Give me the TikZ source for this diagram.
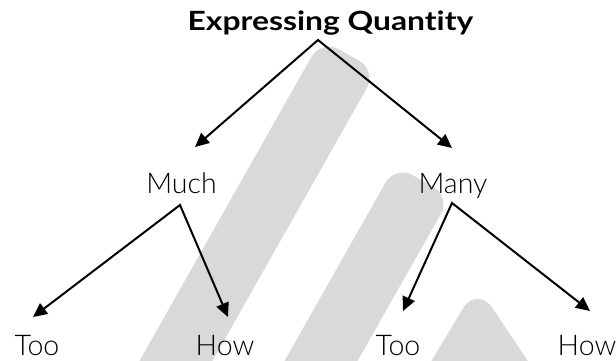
\documentclass[tikz,border=0pt]{standalone}
\usepackage{fontspec}
\setmainfont{Lato}[UprightFont=* Light, BoldFont=* Bold]
\newfontfamily\titlefont{Lato Bold}[FakeStretch=1.2, Ligatures=NoCommon]
\usetikzlibrary{arrows.meta}
\definecolor{wm}{HTML}{D9D9D9}
\begin{document}
\begin{tikzpicture}[x=1pt,y=-1pt,
  lbl/.style={font=\fontsize{28.5}{30}\selectfont, anchor=base, inner sep=0pt},
  ttl/.style={font=\titlefont\fontsize{26.5}{28}\selectfont, anchor=base, inner sep=0pt},
  arr/.style={line width=2pt, line join=miter,
    {Triangle[length=14pt,width=13pt]}-{Triangle[length=14pt,width=13pt]}},
  band/.style={fill=wm, rounded corners=20pt}]
\useasboundingbox (0,0) rectangle (616,360);
% watermark bands
\begin{scope}
  \clip (0,0) rectangle (616,360);
  \fill[band] (117.4,400) -- (321.3,39.4) -- (376.7,70.6) -- (190.4,400) -- cycle;
  \fill[band] (262.4,400) -- (395.3,165.4) -- (450.7,196.6) -- (335.4,400) -- cycle;
  \fill[band, rounded corners=28pt] (408,400) -- (477,285) -- (554,400) -- cycle;
\end{scope}
% texts
\node[ttl] (title) at (330.5,30.7) {Expressing Quantity};
\node[lbl] (much) at (181.5,193.3) {Much};
\node[lbl] (many) at (453,193.3) {Many};
\node[lbl] (too1) at (37,355) {Too};
\node[lbl] (how1) at (225,355) {How};
\node[lbl] (too2) at (398,355) {Too};
\node[lbl] (how2) at (587,355) {How};
% junction points and arrow tips
\coordinate (j0) at (318,40);
\coordinate (j1) at (180,205);
\coordinate (j2) at (452,203);
\coordinate (pMuch) at (195,147);
\coordinate (pMany) at (452,148);
\coordinate (pToo1) at (33,317);
\coordinate (pHow1) at (228,317);
\coordinate (pToo2) at (403,311);
\coordinate (pHow2) at (590,311);
% connectors
\draw[arr] (pMuch) -- (j0) -- (pMany);
\draw[arr] (pToo1) -- (j1) -- (pHow1);
\draw[arr] (pToo2) -- (j2) -- (pHow2);
\end{tikzpicture}
\end{document}
